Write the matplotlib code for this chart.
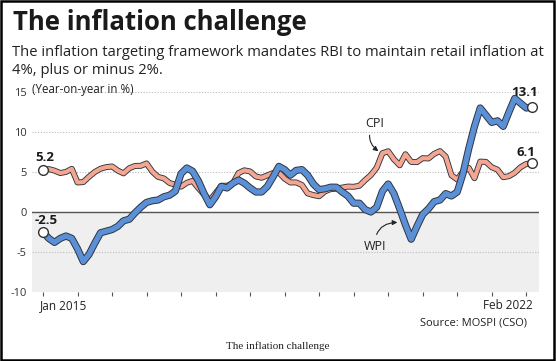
import matplotlib.pyplot as plt
import matplotlib.patheffects as pe
from matplotlib.patches import Rectangle
import numpy as np

# monthly, Jan 2015 .. Feb 2022 (year-on-year %)
cpi = [5.19, 5.37, 5.17, 4.87, 5.01, 5.40, 3.69, 3.74, 4.41, 5.00, 5.41, 5.61,
       5.69, 5.18, 4.83, 5.47, 5.76, 5.77, 6.07, 5.05, 4.39, 4.20, 3.63, 3.41,
       3.17, 3.65, 3.89, 2.99, 2.18, 1.46, 2.36, 3.28, 3.28, 3.58, 4.88, 5.21,
       5.07, 4.44, 4.28, 4.58, 4.87, 4.92, 4.17, 3.69, 3.70, 3.38, 2.33, 2.11,
       1.97, 2.57, 2.86, 2.92, 3.05, 3.18, 3.15, 3.28, 3.99, 4.62, 5.54, 7.35,
       7.59, 6.58, 5.84, 7.22, 6.27, 6.23, 6.73, 6.69, 7.27, 7.61, 6.93, 4.59,
       4.06, 5.03, 5.52, 4.23, 6.30, 6.26, 5.59, 5.30, 4.35, 4.48, 4.91, 5.59,
       6.01, 6.07]
wpi = [-2.5, -3.3, -3.8, -3.3, -3.0, -3.3, -4.6, -6.2, -5.3, -3.9, -2.6, -2.4,
       -2.2, -1.8, -1.1, -0.9, -0.1, 0.6, 1.2, 1.4, 1.5, 1.9, 2.1, 2.6,
       4.8, 5.5, 5.1, 3.9, 2.3, 0.9, 1.9, 3.2, 3.0, 3.6, 4.0, 3.6,
       3.0, 2.5, 2.5, 3.2, 4.4, 5.7, 5.3, 4.6, 5.2, 5.3, 4.6, 3.5,
       2.8, 2.9, 3.1, 3.1, 2.5, 2.0, 1.1, 1.1, 0.3, 0.0, 0.6, 2.6,
       3.5, 2.3, 0.4, -1.6, -3.4, -1.8, -0.3, 0.4, 1.3, 1.5, 2.3, 2.0,
       2.5, 4.8, 7.9, 10.7, 13.0, 12.1, 11.2, 11.4, 10.7, 12.5, 14.2, 13.6,
       13.0, 13.1]
yticks = [15, 10, 5, 0, -5, -10]
first_label = "Jan 2015"
last_label = "Feb 2022"

months = np.arange(len(cpi))
blue = "#5b8fd6"
salmon = "#f5a690"
edge = "#2e3540"
sans = ["Open Sans", "DejaVu Sans"]

fig = plt.figure(figsize=(5.56, 3.61), dpi=100)
fig.patches.append(Rectangle((0.002, 0.003), 0.995, 0.994, transform=fig.transFigure,
                             fill=False, edgecolor="black", linewidth=1.8))

fig.text(13/556, 1 - 23/361, "The inflation challenge", fontsize=18.5, fontweight="bold",
         family=sans, color="#1a1a1a", va="center")
fig.text(12/556, 1 - 52/361, "The inflation targeting framework mandates RBI to maintain retail inflation at",
         fontsize=10.6, family=sans, color="#222", va="center")
fig.text(12/556, 1 - 70/361, "4%, plus or minus 2%.", fontsize=10.6, family=sans, color="#222", va="center")

ax = fig.add_axes([32/556, 1 - 292/361, 507/556, 200/361])
n_last = len(cpi) - 1
ax.set_xlim(-11/5.753, n_last + 7/5.753)
ax.set_ylim(-10, 15)

ax.axhspan(-10, 0, color="#efefef", zorder=0)
for v in yticks:
    if v != 0:
        ax.axhline(v, color="#bbbbbb", linestyle=(0, (1, 1.5)), linewidth=0.8, zorder=1)
ax.axhline(0, color="#555555", linewidth=1.0, zorder=2)

ax.plot(months, cpi, color=salmon, linewidth=3.0, solid_joinstyle="round", zorder=3,
        path_effects=[pe.Stroke(linewidth=4.3, foreground=edge), pe.Normal()])
ax.plot(months, wpi, color=blue, linewidth=3.8, solid_joinstyle="round", zorder=4,
        path_effects=[pe.Stroke(linewidth=5.2, foreground=edge), pe.Normal()])

for x, y in [(0, cpi[0]), (0, wpi[0]), (n_last, cpi[-1]), (n_last, wpi[-1])]:
    ax.plot(x, y, "o", markersize=7, markerfacecolor="white", markeredgecolor="#333",
            markeredgewidth=1, zorder=5)
ax.text(0.3, cpi[0] + 1.6, f"{cpi[0]:.1f}", ha="center", va="center", fontsize=9.5,
        fontweight="bold", family=sans, color="#1a1a1a")
ax.text(0.6, wpi[0] + 1.5, f"{wpi[0]:.1f}", ha="center", va="center", fontsize=9.5,
        fontweight="bold", family=sans, color="#1a1a1a")
ax.text(n_last - 1.3, wpi[-1] + 1.8, f"{wpi[-1]:.1f}", ha="center", va="center", fontsize=9.5,
        fontweight="bold", family=sans, color="#1a1a1a")
ax.text(n_last - 1.0, cpi[-1] + 1.4, f"{cpi[-1]:.1f}", ha="center", va="center", fontsize=9.5,
        fontweight="bold", family=sans, color="#1a1a1a")

ax.annotate("CPI", xy=(58.3, 7.6), xytext=(57.7, 11.1), ha="center", va="center",
            fontsize=9, family=sans, color="#222",
            arrowprops=dict(arrowstyle="-|>", color="#222", lw=0.8, mutation_scale=7,
                            connectionstyle="arc3,rad=0.5", shrinkA=2, shrinkB=0))
ax.annotate("WPI", xy=(61.6, -1.3), xytext=(57.7, -4.3), ha="center", va="center",
            fontsize=9, family=sans, color="#222",
            arrowprops=dict(arrowstyle="-|>", color="#222", lw=0.8, mutation_scale=7,
                            connectionstyle="arc3,rad=-0.5", shrinkA=2, shrinkB=0))

ax.set_yticks(yticks)
ax.set_yticklabels([str(v) for v in yticks], fontsize=8, family=sans, color="#333")
ax.tick_params(axis="y", length=0, pad=4)
ax.set_xticks(np.arange(0, len(cpi), 6))
ax.set_xticklabels([])
ax.tick_params(axis="x", length=3, width=0.8, color="#555", direction="out")
for s in ax.spines.values():
    s.set_visible(False)

ax.text(-0.6, -11.7, first_label, ha="left", va="center", fontsize=8.5, family=sans, color="#222")
ax.text(n_last + 0.2, -11.7, last_label, ha="right", va="center", fontsize=8.5, family=sans, color="#222")
ax.text(0.0, 1.01, "(Year-on-year in %)", transform=ax.transAxes, ha="left",
        va="center", fontsize=8.3, family=sans, color="#222")

fig.text(527/556, 1 - 323/361, "Source: MOSPI (CSO)", ha="right", va="center", fontsize=8,
         family=sans, color="#222")
fig.text(0.5, 1 - 346/361, "The inflation challenge", ha="center", va="center", fontsize=8,
         family="Liberation Serif", color="#222")

fig.savefig("out.png", dpi=100)
